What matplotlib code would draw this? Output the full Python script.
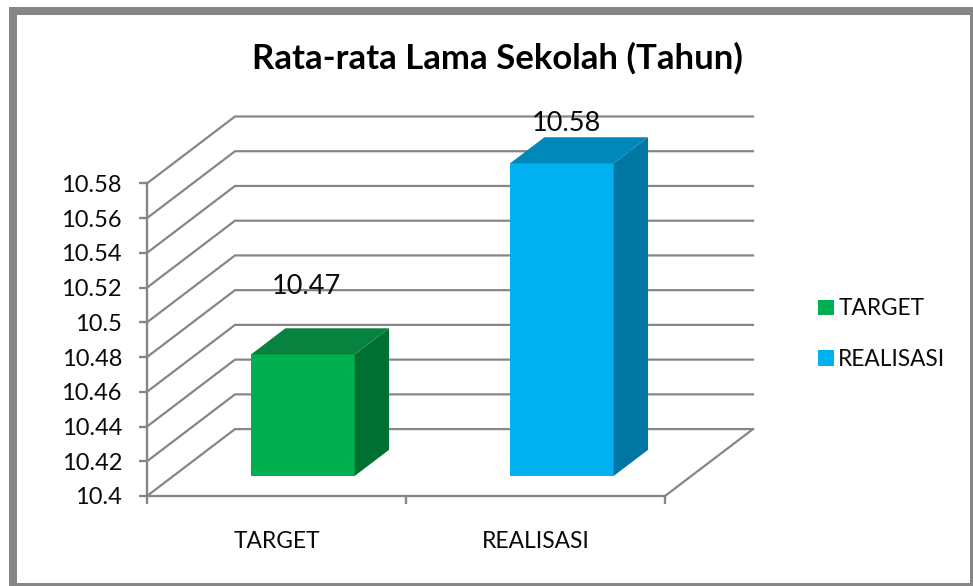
from matplotlib import pyplot as plt
from matplotlib.patches import Polygon, Rectangle
import numpy as np

plt.rcParams['font.family'] = ['Lato', 'DejaVu Sans']

categories = ['TARGET', 'REALISASI']
values = [10.47, 10.58]
value_labels = ['10.47', '10.58']
yticks = [10.4, 10.42, 10.44, 10.46, 10.48, 10.5, 10.52, 10.54, 10.56, 10.58]
ytick_labels = ['10.4', '10.42', '10.44', '10.46', '10.48', '10.5', '10.52', '10.54', '10.56', '10.58']

W, H = 973, 586
GREY = '#868686'
INK = '#0A0A0A'
front_colors = ['#00B050', '#00B0F0']
side_colors = ['#006F32', '#0076A3']
top_colors = ['#08833F', '#0088BA']

# 3D look: depth of the box, in axis units
wall_dx = 88 / 259
wall_dy = 67 / 1739
bar_width = 0.4
bar_front = 0.30   # how far back the bar front sits, as part of the floor depth
bar_depth = 0.39
label_pos = [(0.614, 0.0505), (1.62, 0.0345)]

fig = plt.figure(figsize=(W / 100, H / 100), dpi=100)

# Outer frame
fig.add_artist(Rectangle((9 / W, 0), (W - 9) / W, (H - 7) / H, transform=fig.transFigure,
                         facecolor=GREY, edgecolor='none', zorder=-2))
fig.add_artist(Rectangle((17 / W, 3 / H), 952.5 / W, 568 / H, transform=fig.transFigure,
                         facecolor='white', edgecolor='none', zorder=-1))

ax = fig.add_axes([147 / W, 1 - 496 / H, 518 / W, 312.6 / H])
ax.patch.set_alpha(0)
ax.set_xlim(0, 2)
ax.set_ylim(10.4, 10.58)
for s in ['top', 'right']:
    ax.spines[s].set_visible(False)
for s in ['left', 'bottom']:
    ax.spines[s].set_color(GREY)
    ax.spines[s].set_linewidth(1.7)

ax.set_yticks(yticks)
ax.set_yticklabels(ytick_labels, fontsize=17, color=INK)
ax.tick_params(axis='y', length=6, width=1.7, color=GREY, pad=12)
ax.set_xticks([0, 1, 2])
ax.set_xticklabels(['', '', ''])
ax.tick_params(axis='x', which='major', length=6, width=1.7, color=GREY)
ax.set_xticks([0.5, 1.5], minor=True)
ax.set_xticklabels(categories, minor=True, fontsize=16.4, color=INK)
ax.tick_params(axis='x', which='minor', length=0, pad=25)

# Gridlines: side wall and back wall
for t in yticks:
    ax.plot([0, wall_dx, 2 + wall_dx], [t, t + wall_dy, t + wall_dy], color=GREY, lw=1.6,
            clip_on=False, zorder=1, solid_joinstyle='miter')
ax.plot([2, 2 + wall_dx], [10.4, 10.4 + wall_dy], color=GREY, lw=1.6, clip_on=False, zorder=1)

# Bars
base = 10.4
for i, v in enumerate(values):
    x0 = i + 0.5 + bar_front * wall_dx - bar_width / 2
    x1 = x0 + bar_width
    y0 = base + bar_front * wall_dy
    y1 = y0 + (v - base)
    dx = bar_depth * wall_dx
    dy = bar_depth * wall_dy
    ax.add_patch(Polygon([(x0, y0), (x1, y0), (x1, y1), (x0, y1)], facecolor=front_colors[i],
                         edgecolor='none', clip_on=False, zorder=3))
    ax.add_patch(Polygon([(x1, y0), (x1 + dx, y0 + dy), (x1 + dx, y1 + dy), (x1, y1)],
                         facecolor=side_colors[i], edgecolor='none', clip_on=False, zorder=3))
    ax.add_patch(Polygon([(x0, y1), (x1, y1), (x1 + dx, y1 + dy), (x0 + dx, y1 + dy)],
                         facecolor=top_colors[i], edgecolor='none', clip_on=False, zorder=3))
    ax.text(label_pos[i][0], v + label_pos[i][1], value_labels[i], fontsize=19.5, color=INK,
            ha='center', va='center', zorder=4)

# Legend
handles = [Rectangle((0, 0), 1, 1, facecolor=c, edgecolor='none') for c in front_colors]
fig.legend(handles, categories, loc='center left', bbox_to_anchor=(798 / W, 1 - 334 / H),
           frameon=False, fontsize=16.3, handlelength=0.68, handleheight=0.68, handletextpad=0.2,
           labelspacing=1.3, labelcolor=INK)

fig.text(497 / W, 1 - 58 / H, 'Rata-rata Lama Sekolah (Tahun)', fontsize=25, fontweight='bold',
         ha='center', va='center', color='#000000')

plt.savefig('out.png', dpi=100)
